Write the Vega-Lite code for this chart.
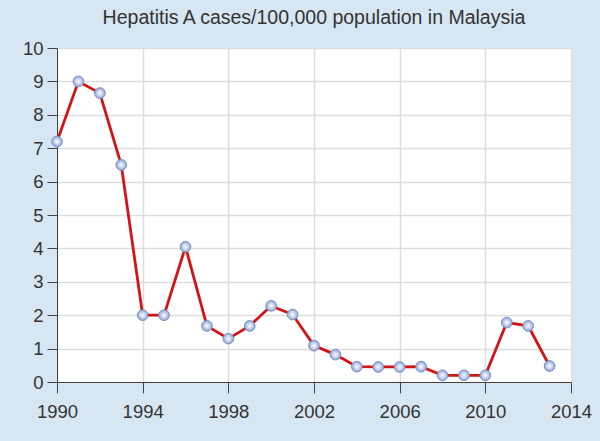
{
  "$schema": "https://vega.github.io/schema/vega-lite/v6.json",
  "autosize": "none",
  "width": 514,
  "height": 334,
  "padding": {"left": 57, "top": 48, "right": 29, "bottom": 59},
  "background": "#d6e7f3",
  "title": {
    "text": "Hepatitis A cases/100,000 population in Malaysia",
    "font": "Liberation Sans",
    "fontSize": 19.5,
    "fontWeight": "normal",
    "color": "#333333",
    "offset": 11,
    "anchor": "middle"
  },
  "config": {
    "view": {"stroke": "#a0a0a0", "strokeWidth": 1, "fill": "white"},
    "axis": {
      "labelFont": "Liberation Sans",
      "labelFontSize": 18.5,
      "labelColor": "#333333",
      "domainColor": "#444444",
      "tickColor": "#444444",
      "tickSize": 11,
      "gridColor": "#dddddd",
      "gridWidth": 1.5,
      "title": null
    }
  },
  "data": {
    "values": [
      {"year": 1990, "rate": 7.2},
      {"year": 1991, "rate": 9.0},
      {"year": 1992, "rate": 8.65},
      {"year": 1993, "rate": 6.5},
      {"year": 1994, "rate": 2.0},
      {"year": 1995, "rate": 2.0},
      {"year": 1996, "rate": 4.05},
      {"year": 1997, "rate": 1.68},
      {"year": 1998, "rate": 1.3},
      {"year": 1999, "rate": 1.68},
      {"year": 2000, "rate": 2.28},
      {"year": 2001, "rate": 2.02},
      {"year": 2002, "rate": 1.09},
      {"year": 2003, "rate": 0.82},
      {"year": 2004, "rate": 0.46},
      {"year": 2005, "rate": 0.45},
      {"year": 2006, "rate": 0.45},
      {"year": 2007, "rate": 0.46},
      {"year": 2008, "rate": 0.2},
      {"year": 2009, "rate": 0.2},
      {"year": 2010, "rate": 0.2},
      {"year": 2011, "rate": 1.78},
      {"year": 2012, "rate": 1.68},
      {"year": 2013, "rate": 0.48}
    ]
  },
  "encoding": {
    "x": {
      "field": "year",
      "type": "quantitative",
      "scale": {"domain": [1990, 2014], "nice": false, "zero": false},
      "axis": {"values": [1990, 1994, 1998, 2002, 2006, 2010, 2014], "format": "d", "labelPadding": 9, "labelFlush": false}
    },
    "y": {
      "field": "rate",
      "type": "quantitative",
      "scale": {"domain": [0, 10], "nice": false},
      "axis": {"values": [0, 1, 2, 3, 4, 5, 6, 7, 8, 9, 10], "labelPadding": 4, "tickSize": 10}
    }
  },
  "layer": [
    {"mark": {"type": "line", "color": "#d41414", "strokeWidth": 2.8}},
    {
      "mark": {
        "type": "point",
        "filled": true,
        "size": 115,
        "opacity": 1,
        "stroke": "#7d93c4",
        "strokeWidth": 1,
        "fill": {
          "gradient": "radial",
          "x1": 0.5, "y1": 0.5, "r1": 0,
          "x2": 0.5, "y2": 0.5, "r2": 0.5,
          "stops": [
            {"offset": 0, "color": "#ffffff"},
            {"offset": 0.5, "color": "#c9d5f0"},
            {"offset": 1, "color": "#8ea2d4"}
          ]
        }
      }
    }
  ]
}
